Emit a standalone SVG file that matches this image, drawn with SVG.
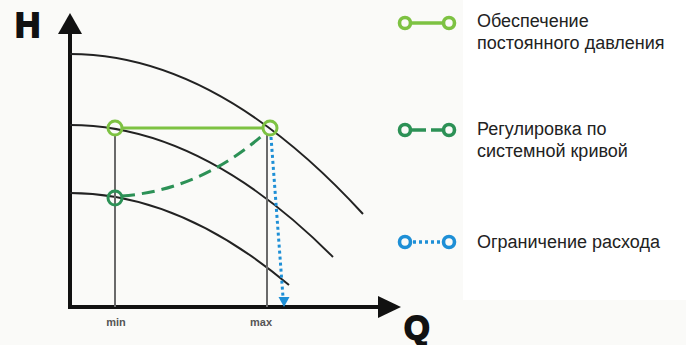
<svg xmlns="http://www.w3.org/2000/svg" width="686" height="345" viewBox="0 0 686 345">
<defs>
<style>
.axis{stroke:#111;stroke-width:4;fill:none}
.curve{stroke:#222;stroke-width:2;fill:none}
.vline{stroke:#6a6a6a;stroke-width:2;fill:none}
.lg{stroke:#7dc242;fill:none;stroke-width:3}
.dg{stroke:#2c9156;fill:none;stroke-width:3}
.bl{stroke:#1e8fd6;fill:none;stroke-width:3}
.lgd{stroke-width:3.6}
.axlbl{font-family:"Liberation Sans",Arial,sans-serif;font-weight:bold;fill:#111;stroke:#111;stroke-width:1.8}
.tick{font-family:"Liberation Sans",Arial,sans-serif;font-weight:bold;font-size:11px;fill:#555}
.leg{font-family:"Liberation Sans",Arial,sans-serif;font-size:18px;fill:#222}
</style>
</defs>
<rect width="686" height="345" fill="#fafaf8"/>
<rect x="463" y="0" width="223" height="300" fill="#ffffff"/>

<g id="axes">
<line class="axis" x1="70" y1="30" x2="70" y2="309"/>
<line class="axis" x1="68" y1="307" x2="382" y2="307"/>
<polygon points="70,13 58,34 82,34" fill="#111"/>
<polygon points="401,307 378,296 378,318" fill="#111"/>
<text class="axlbl" x="15" y="37" font-size="35">H</text>
<text class="axlbl" x="404" y="339" font-size="33">Q</text>
<text class="tick" x="116" y="326" text-anchor="middle">min</text>
<text class="tick" x="261" y="326" text-anchor="middle">max</text>
</g>

<g id="pump-curves">
<path class="curve" d="M70,54 Q216.5,54 363,214"/>
<path class="curve" d="M70,125 Q201.5,125 333,257"/>
<path class="curve" d="M70,193 Q179.5,193 289,285"/>
</g>

<g id="connectors">
<line class="vline" x1="115" y1="135" x2="115" y2="307"/>
<line class="vline" x1="267" y1="135" x2="267" y2="307"/>
<line class="lg" x1="122" y1="128" x2="263" y2="128"/>
<path class="dg" d="M122,196 Q200,190 264,134" stroke-width="4" stroke-dasharray="13,7"/>
<line class="bl" x1="271" y1="137" x2="283" y2="297" stroke-width="3.2" stroke-dasharray="3,3"/>
<polygon points="284,307 278.5,297 289.5,297" fill="#1e8fd6"/>
</g>

<g id="point-min-constant"><circle class="lg" cx="115" cy="128" r="7"/></g>
<g id="point-max"><circle class="lg" cx="270" cy="128" r="7"/></g>
<g id="point-min-system"><circle class="dg" cx="115" cy="198" r="7"/></g>

<g id="legend-constant">
<circle class="lg lgd" cx="405" cy="23" r="5.5"/>
<circle class="lg lgd" cx="449" cy="23" r="5.5"/>
<line class="lg lgd" x1="410.5" y1="23" x2="443.5" y2="23"/>
<text class="leg" x="477" y="27">Обеспечение</text>
<text class="leg" x="477" y="49">постоянного давления</text>
</g>

<g id="legend-system">
<circle class="dg lgd" cx="405" cy="130" r="5.5"/>
<circle class="dg lgd" cx="449" cy="130" r="5.5"/>
<line class="dg lgd" x1="411" y1="130" x2="443.5" y2="130" stroke-dasharray="15,5"/>
<text class="leg" x="477" y="135">Регулировка по</text>
<text class="leg" x="477" y="157">системной кривой</text>
</g>

<g id="legend-limit">
<circle class="bl lgd" cx="405" cy="242" r="5.5"/>
<circle class="bl lgd" cx="449" cy="242" r="5.5"/>
<line class="bl lgd" x1="413" y1="242" x2="443" y2="242" stroke-dasharray="3,3"/>
<text class="leg" x="477" y="248">Ограничение расхода</text>
</g>
</svg>
